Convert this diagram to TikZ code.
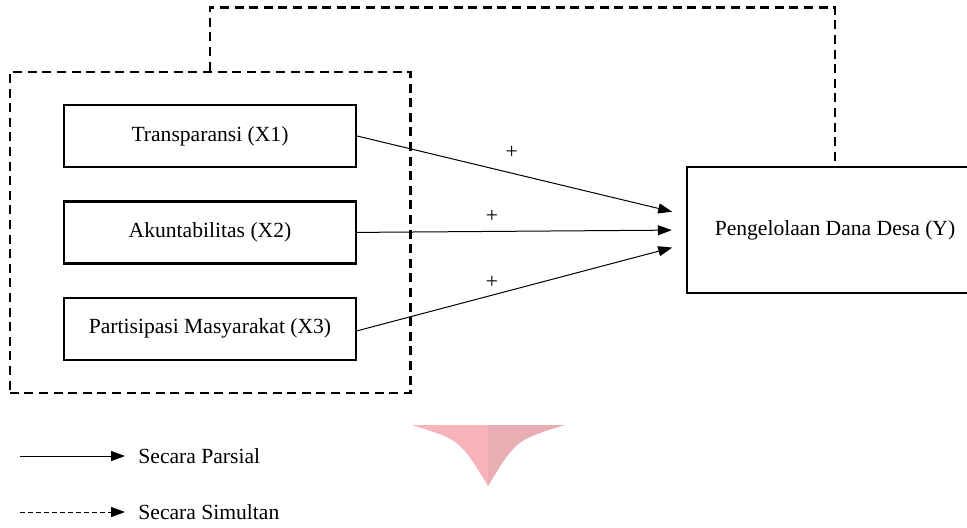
\documentclass[tikz,border=0pt]{standalone}
\usepackage{fontspec}
\setmainfont{Liberation Serif}
\usetikzlibrary{arrows.meta}
\usetikzlibrary{positioning}
\usetikzlibrary{fit}
\definecolor{markleft}{RGB}{246,180,186}
\definecolor{markright}{RGB}{232,174,179}
\tikzstyle{var}=[rectangle, draw, line width=1.2pt, minimum width=146pt, minimum height=31pt, inner sep=0pt]
\tikzstyle{dep}=[rectangle, draw, line width=1.2pt, minimum width=148pt, minimum height=63pt, inner sep=0pt]
\tikzstyle{grp}=[rectangle, draw, line width=1.3pt, dash pattern=on 4.5pt off 2.8pt, inner xsep=26.5pt, inner ysep=16pt]
\tikzstyle{sim}=[line width=1.3pt, dash pattern=on 4.5pt off 2.8pt]
\tikzstyle{par}=[line width=0.5pt, shorten >=7pt]
\tikzstyle{sign}=[inner sep=0pt]
\tikzstyle{legtext}=[anchor=west, inner sep=6.5pt]

\begin{document}
\begin{tikzpicture}[x=0.5pt, y=-0.5pt, >={Triangle[length=7pt, width=5pt]},
    font=\fontsize{10.8}{13}\selectfont]
    \useasboundingbox (0,0) rectangle (967,527);

    % watermark
    \fill[markleft] (412,425) -- (488,425) -- (488,486) .. controls (460,440) .. (412,425);
    \fill[markright] (488,425) -- (565,425) .. controls (516,440) .. (488,486) -- cycle;

    % nodes
    \node[var] (x1) at (210,136) {Transparansi (X1)};
    \node[var, below=16pt of x1] (x2) {Akuntabilitas (X2)};
    \node[var, below=16pt of x2] (x3) {Partisipasi Masyarakat (X3)};
    \node[dep] (y) at (835,230) {Pengelolaan Dana Desa (Y)};
    \node[grp, fit=(x1)(x3)] (grp) {};

    % partial arrows
    \draw[par, ->] (x1.east) -- ([yshift=7.5pt]y.west) node[sign, pos=0.47, yshift=10.5pt] (p1) {+};
    \draw[par, ->] (x2.east) -- (y.west) node[sign, pos=0.41, yshift=7.3pt] (p2) {+};
    \draw[par, ->] ([yshift=-1pt]x3.east) -- ([yshift=-7pt]y.west) node[sign, pos=0.41, yshift=6.2pt] (p3) {+};

    % simultaneous
    \draw[sim] (grp.north) -- ++(0,-63) -| (y.north);

    % legend
    \coordinate (lpa) at (20,456);
    \coordinate (lsi) at (20,512);
    \node[legtext] (lpar) at (125,456) {Secara Parsial};
    \node[legtext] (lsim) at (125,512) {Secara Simultan};
    \draw[line width=0.5pt, ->] (lpa) -- (lpar.west);
    \draw[line width=0.5pt, dash pattern=on 2.5pt off 1.5pt, ->] (lsi) -- (lsim.west);
\end{tikzpicture}
\end{document}
